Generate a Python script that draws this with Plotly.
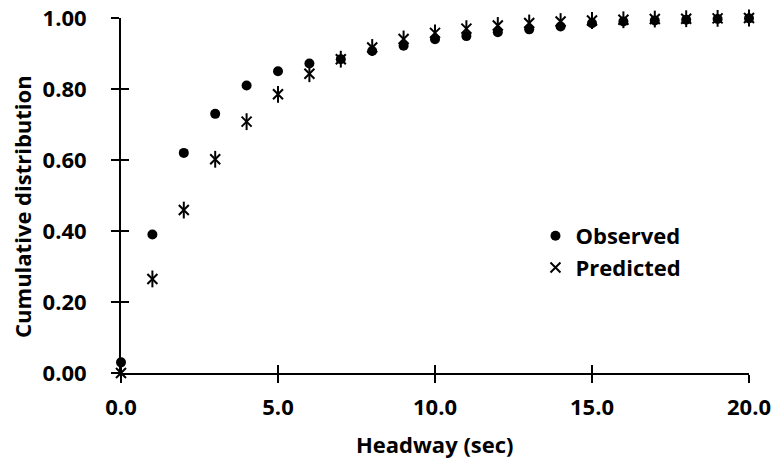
import plotly.graph_objects as go

headway = list(range(0, 21))
observed = [0.03, 0.39, 0.62, 0.73, 0.81, 0.85, 0.872, 0.884, 0.907, 0.922, 0.94,
            0.949, 0.96, 0.968, 0.976, 0.985, 0.99, 0.993, 0.995, 0.997, 0.999]
predicted = [0.0, 0.265, 0.459, 0.602, 0.708, 0.785, 0.843, 0.884, 0.917, 0.941, 0.958,
             0.97, 0.979, 0.986, 0.99, 0.993, 0.995, 0.997, 0.998, 0.999, 1.0]
x_ticks = [0, 5, 10, 15, 20]
y_ticks = [0, 0.2, 0.4, 0.6, 0.8, 1.0]
x_title = "Headway (sec)"
y_title = "Cumulative distribution"

FONT = "Open Sans"
fig = go.Figure()
fig.add_trace(go.Scatter(x=headway, y=observed, mode="markers", name="Observed",
                         cliponaxis=False,
                         marker=dict(symbol="circle", size=10, color="black")))
fig.add_trace(go.Scatter(x=headway, y=predicted, mode="markers", name="Predicted",
                         cliponaxis=False,
                         marker=dict(symbol="x-thin-open", size=10, color="black",
                                     line=dict(width=2, color="black"))))
fig.add_trace(go.Scatter(x=headway, y=predicted, mode="markers", showlegend=False,
                         cliponaxis=False, hoverinfo="skip",
                         marker=dict(symbol="line-ns-open", size=12, color="black",
                                     line=dict(width=2, color="black"))))
# invisible trace for the overlay axes (inside tick halves)
fig.add_trace(go.Scatter(x=[5], y=[0.5], xaxis="x2", yaxis="y2", showlegend=False,
                         mode="markers", marker=dict(opacity=0), hoverinfo="skip"))

axis_common = dict(showgrid=False, zeroline=False, showline=True, linecolor="black",
                   linewidth=2, tickcolor="black", tickwidth=2, ticklen=8,
                   automargin=False)
fig.update_layout(
    width=778, height=461,
    margin=dict(l=121, r=29, t=18, b=88),
    paper_bgcolor="white", plot_bgcolor="white",
    font=dict(family=FONT, size=22, color="black"),
    xaxis=dict(range=[0, 20], tickvals=x_ticks, tickformat=".1f", ticks="outside",
               tickfont=dict(size=22, weight="bold"), ticklabelstandoff=6, **axis_common),
    yaxis=dict(range=[0, 1], tickvals=y_ticks, tickformat=".2f", ticks="outside",
               tickfont=dict(size=22, weight="bold"), ticklabelstandoff=20, **axis_common),
    xaxis2=dict(range=[0, 20], tickvals=x_ticks, ticks="inside", overlaying="x",
                showticklabels=False, **axis_common),
    yaxis2=dict(range=[0, 1], tickvals=y_ticks, ticks="inside", overlaying="y",
                showticklabels=False, **axis_common),
    legend=dict(x=0.66, y=0.445, xanchor="left", yanchor="top", bgcolor="rgba(0,0,0,0)",
                font=dict(size=22, weight="bold"), itemwidth=30, tracegroupgap=0),
    showlegend=True,
    annotations=[
        dict(text=f"<b>{x_title}</b>", xref="paper", yref="paper", x=0.5, y=-0.2,
             xanchor="center", yanchor="middle", showarrow=False, font=dict(size=22)),
        dict(text=f"<b>{y_title}</b>", xref="paper", yref="paper", x=-0.158, y=0.47,
             xanchor="center", yanchor="middle", textangle=-90, showarrow=False,
             font=dict(size=22)),
    ],
)
fig.write_html("out.html")
